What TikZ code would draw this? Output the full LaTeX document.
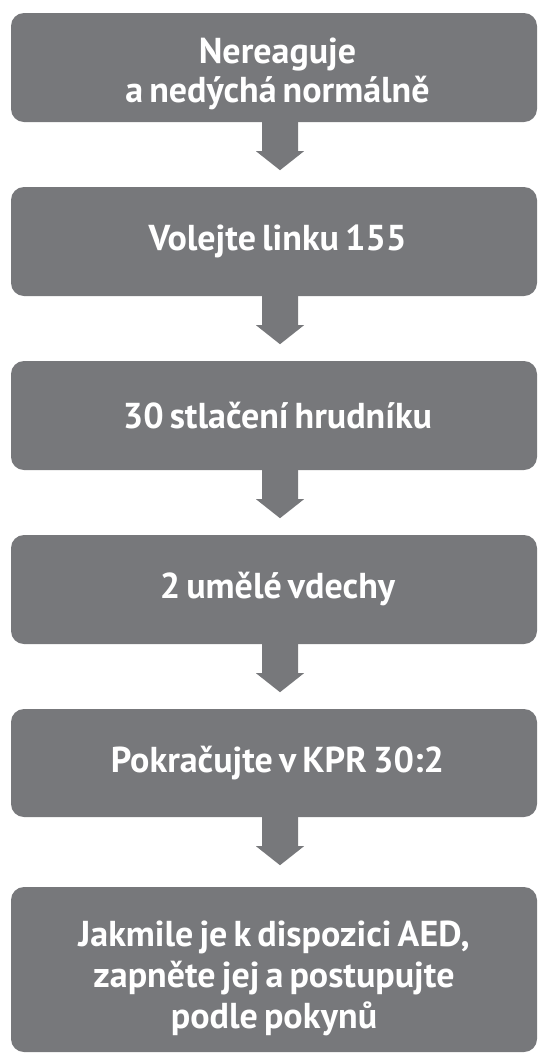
\documentclass[tikz,border=0pt]{standalone}
\usepackage{fontspec}
\setmainfont{PT Sans}
\usetikzlibrary{calc}
\definecolor{boxgray}{HTML}{77787B}
\newcommand\sh{\hspace*{7pt}}
\newcommand\flowfont{\bfseries\fontsize{36}{39}\selectfont\spaceskip 0.17em plus 0.05em minus 0.02em\relax}
\newcommand\flowfontb{\bfseries\fontsize{36}{41}\selectfont\spaceskip 0.17em plus 0.05em minus 0.02em\relax}
\newcommand\topstrut[1]{\vrule width 0pt height #1\relax}
\newcommand\blockarrow[2]{%
  \coordinate (s) at ($(#1.south)+(6,1)$);
  \coordinate (e) at ($(#2.north)+(6,0)$);
  \fill[arrowfill] ($(s)+(-18,0)$) -- ($(s)!30pt!(e)+(-18,0)$) -- ($(s)!30pt!(e)+(-24,0)$)
    -- ($(s)!49pt!(e)$) -- ($(s)!30pt!(e)+(24,0)$) -- ($(s)!30pt!(e)+(18,0)$)
    -- ($(s)+(18,0)$) -- cycle;}
\begin{document}
\begin{tikzpicture}[x=1pt,y=1pt,
  flowbox/.style={rectangle, rounded corners=13pt, fill=boxgray, text=white,
    minimum width=526pt, inner sep=0pt, align=center, font=\flowfont},
  arrowfill/.style={fill=boxgray}]
\useasboundingbox (0,0) rectangle (539,-1053);
\node[flowbox, minimum height=109pt] (b1) at (274,-67.5) {\topstrut{38pt}\sh Nereaguje\\\sh a nedýchá normálně};
\node[flowbox, minimum height=109pt] (b2) at (274,-241.5) {\sh Volejte linku 155};
\node[flowbox, minimum height=109pt] (b3) at (274,-415.5) {\sh 30 stlačení hrudníku};
\node[flowbox, minimum height=109pt] (b4) at (274,-589.5) {\sh 2 umělé vdechy};
\node[flowbox, minimum height=108pt] (b5) at (274,-763) {\sh Pokračujte v KPR 30:2};
\node[flowbox, minimum height=165pt, font=\flowfontb] (b6) at (274,-969.5) {\topstrut{44pt}Jakmile je k dispozici AED,\\zapněte jej a postupujte\\podle pokynů};
\blockarrow{b1}{b2}
\blockarrow{b2}{b3}
\blockarrow{b3}{b4}
\blockarrow{b4}{b5}
\blockarrow{b5}{b6}
\end{tikzpicture}
\end{document}
